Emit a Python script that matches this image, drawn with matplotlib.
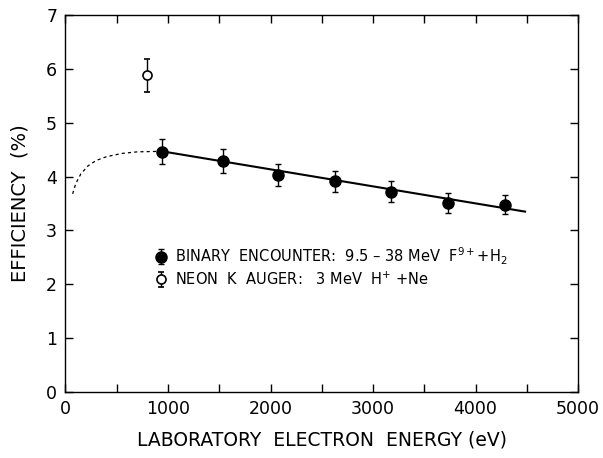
import matplotlib
matplotlib.use("Agg")
import matplotlib.pyplot as plt
from matplotlib.ticker import MultipleLocator

# Data
be_energy = [941, 1537, 2073, 2629, 3173, 3729, 4291]
be_eff = [4.46, 4.29, 4.03, 3.91, 3.72, 3.51, 3.48]
be_err = [0.23, 0.22, 0.20, 0.20, 0.19, 0.18, 0.17]

ne_energy = [795]
ne_eff = [5.88]
ne_err = [0.30]

fit_x = [941, 4483]
fit_y = [4.47, 3.35]

dash_x = [70, 100, 150, 220, 300, 400, 550, 700, 941]
dash_y = [3.68, 3.87, 4.05, 4.20, 4.30, 4.37, 4.43, 4.46, 4.47]

x_ticks = [0, 1000, 2000, 3000, 4000, 5000]
y_ticks = [0, 1, 2, 3, 4, 5, 6, 7]

plt.rcParams['font.family'] = ['DejaVu Sans']

fig = plt.figure(figsize=(6.03, 4.58), dpi=100)
ax = fig.add_axes([0.1086, 0.1441, 0.85, 0.823])

ax.plot(fit_x, fit_y, color='black', lw=1.5, zorder=2)
ax.plot(dash_x, dash_y, color='black', lw=0.9, ls=(0, (2.5, 2.5)), zorder=2)

h1 = ax.errorbar(be_energy, be_eff, yerr=be_err, fmt='o', color='black',
                 ms=8, capsize=2.5, elinewidth=1.0, capthick=1.0, zorder=3)
h2 = ax.errorbar(ne_energy, ne_eff, yerr=ne_err, fmt='o', color='black',
                 mfc='white', mec='black', mew=1.2, ms=6.5, capsize=2.5,
                 elinewidth=1.0, capthick=1.0, zorder=3)

ax.set_xlim(0, 5000)
ax.set_ylim(0, 7)
ax.set_xticks(x_ticks)
ax.set_yticks(y_ticks)
ax.xaxis.set_minor_locator(MultipleLocator(500))
ax.tick_params(axis='both', which='both', direction='in', top=True, right=True,
               length=6, width=1.0, labelsize=12.5)
ax.tick_params(axis='x', pad=6)
ax.tick_params(axis='y', pad=6)
for s in ax.spines.values():
    s.set_linewidth(1.0)

ax.set_xlabel('LABORATORY  ELECTRON  ENERGY (eV)', fontsize=13.5, labelpad=9)
ax.set_ylabel('EFFICIENCY  (%)', fontsize=14, labelpad=12)

leg = ax.legend([h1, h2],
                ['BINARY  ENCOUNTER:  9.5 – 38 MeV  F$^{9+}$+H$_2$',
                 'NEON  K  AUGER:   3 MeV  H$^{+}$ +Ne'],
                loc='upper left', bbox_to_anchor=(0.16, 0.405),
                frameon=False, fontsize=10.5, handletextpad=0.5,
                labelspacing=0.25, handlelength=1.0, borderaxespad=0)

fig.savefig('out.png', dpi=100)
